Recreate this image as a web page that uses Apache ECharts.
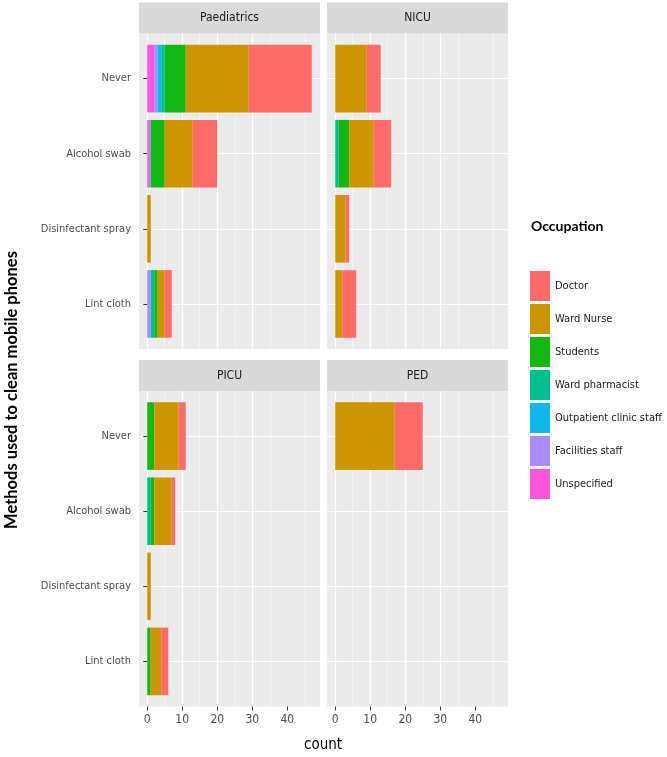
<!DOCTYPE html>
<html><head><meta charset="utf-8">
<script src="https://cdn.jsdelivr.net/npm/echarts@6/dist/echarts.min.js"></script>
<style>html,body{margin:0;padding:0;background:#fff}#c{width:667px;height:757px}</style>
</head><body><div id="c"></div>
<script>
// ---- data ----
const methods = ['Never', 'Alcohol swab', 'Disinfectant spray', 'Lint cloth'];
const panels = ['Paediatrics', 'NICU', 'PICU', 'PED'];
const occupations = ['Doctor', 'Ward Nurse', 'Students', 'Ward pharmacist', 'Outpatient clinic staff', 'Facilities staff', 'Unspecified'];
const occColors = ['#FF6B68', '#CC9600', '#14B814', '#00C08F', '#0FB8EC', '#A98AFF', '#FF55DD'];
const xTicks = [0, 10, 20, 30, 40];

// counts per method: [Never, Alcohol swab, Disinfectant spray, Lint cloth]
const paedDoctor      = [18, 7, 0, 2];
const paedNurse       = [18, 8, 1, 2];
const paedStudents    = [6, 4, 0, 1];
const paedPharmacist  = [1, 0, 0, 1];
const paedOutpatient  = [1, 0, 0, 0];
const paedFacilities  = [1, 0.5, 0, 1];
const paedUnspecified = [2, 0.5, 0, 0];

const nicuDoctor      = [4, 5, 1, 4];
const nicuNurse       = [9, 7, 3, 2];
const nicuStudents    = [0, 3, 0, 0];
const nicuPharmacist  = [0, 1, 0, 0];
const nicuOutpatient  = [0, 0, 0, 0];
const nicuFacilities  = [0, 0, 0, 0];
const nicuUnspecified = [0, 0, 0, 0];

const picuDoctor      = [2, 1, 0, 2];
const picuNurse       = [7, 5, 1, 3];
const picuStudents    = [2, 1, 0, 1];
const picuPharmacist  = [0, 1, 0, 0];
const picuOutpatient  = [0, 0, 0, 0];
const picuFacilities  = [0, 0, 0, 0];
const picuUnspecified = [0, 0, 0, 0];

const pedDoctor       = [8, 0, 0, 0];
const pedNurse        = [17, 0, 0, 0];
const pedStudents     = [0, 0, 0, 0];
const pedPharmacist   = [0, 0, 0, 0];
const pedOutpatient   = [0, 0, 0, 0];
const pedFacilities   = [0, 0, 0, 0];
const pedUnspecified  = [0, 0, 0, 0];

const panelData = [
  [paedDoctor, paedNurse, paedStudents, paedPharmacist, paedOutpatient, paedFacilities, paedUnspecified],
  [nicuDoctor, nicuNurse, nicuStudents, nicuPharmacist, nicuOutpatient, nicuFacilities, nicuUnspecified],
  [picuDoctor, picuNurse, picuStudents, picuPharmacist, picuOutpatient, picuFacilities, picuUnspecified],
  [pedDoctor, pedNurse, pedStudents, pedPharmacist, pedOutpatient, pedFacilities, pedUnspecified]
];

// ---- layout ----
const FONT = "'Liberation Sans Narrow', 'Arial Narrow', 'DejaVu Sans Condensed', sans-serif";
const dataMax = 47;
const expand = 0.05 * dataMax;
const W = 181, H = 315.5, STRIP = 31;
const boxes = [
  { left: 139, top: 33.5 }, { left: 327, top: 33.5 },
  { left: 139, top: 391 }, { left: 327, top: 391 }
];
const sx = W / (dataMax + 2 * expand);
const band = H / (methods.length - 1 + 1.2);

const grids = [], xAxes = [], yAxes = [], series = [], graphics = [];
boxes.forEach((b, p) => {
  const isLeft = p % 2 === 0, isBottom = p >= 2;
  // panel background grid
  grids.push({ left: b.left, top: b.top, width: W, height: H, show: true, backgroundColor: '#EBEBEB', borderWidth: 0 });
  xAxes.push({ gridIndex: grids.length - 1, type: 'value', show: false, min: 0, max: 1 });
  yAxes.push({ gridIndex: grids.length - 1, type: 'value', show: false, min: 0, max: 1 });
  // vertical grid lines + x axis
  const x0 = b.left + expand * sx;
  grids.push({ left: x0, top: b.top, width: 50 * sx, height: H });
  xAxes.push({
    gridIndex: grids.length - 1, type: 'value', min: 0, max: 50, interval: 10,
    axisLine: { show: false },
    axisTick: { show: isBottom, length: 4, lineStyle: { color: '#333333', width: 1 }, customValues: xTicks },
    axisLabel: { show: isBottom, margin: 7, color: '#4D4D4D', fontSize: 12, fontFamily: FONT, customValues: xTicks },
    splitLine: { show: true, showMaxLine: false, lineStyle: { color: '#FFFFFF', width: 1.2 } },
    minorTick: { show: false, splitNumber: 2 },
    minorSplitLine: { show: true, lineStyle: { color: '#FFFFFF', width: 0.5 } }
  });
  yAxes.push({ gridIndex: grids.length - 1, type: 'value', show: false, min: 0, max: 1 });
  // bars grid
  grids.push({ left: b.left, top: b.top + 0.6 * band, width: W, height: (methods.length - 1) * band });
  const gi = grids.length - 1;
  xAxes.push({ gridIndex: gi, type: 'value', show: false, min: -expand, max: dataMax + expand });
  yAxes.push({
    gridIndex: gi, type: 'category', data: methods, inverse: true, boundaryGap: false,
    axisLine: { show: false },
    axisTick: { show: isLeft, length: 4, lineStyle: { color: '#333333', width: 1 } },
    axisLabel: { show: isLeft, margin: 8, color: '#4D4D4D', fontSize: 11, fontFamily: FONT },
    splitLine: { show: true, lineStyle: { color: '#FFFFFF', width: 1.2 } }
  });
  // stacked bars: stack from Unspecified (left) to Doctor (right)
  for (let k = occupations.length - 1; k >= 0; k--) {
    series.push({
      type: 'bar', name: occupations[k], stack: 'p' + p,
      xAxisIndex: gi, yAxisIndex: gi, data: panelData[p][k],
      barWidth: 0.9 * band, clip: false, silent: true,
      itemStyle: { color: occColors[k] }
    });
  }
  // strip
  graphics.push({ type: 'rect', shape: { x: b.left, y: b.top - STRIP, width: W, height: STRIP }, style: { fill: '#D9D9D9' } });
  graphics.push({ type: 'text', x: b.left + W / 2, y: b.top - STRIP / 2,
    style: { text: panels[p], fill: '#1A1A1A', font: '12px ' + FONT, textAlign: 'center', textVerticalAlign: 'middle' } });
});

graphics.push({ type: 'text', x: 323, y: 745,
  style: { text: 'count', fill: '#000000', font: '15px ' + FONT, textAlign: 'center', textVerticalAlign: 'middle' } });
graphics.push({ type: 'text', x: 12, y: 390, rotation: Math.PI / 2,
  style: { text: 'Methods used to clean mobile phones', fill: '#000000', font: 'bold 16.5px Lato, sans-serif', textAlign: 'center', textVerticalAlign: 'middle' } });
graphics.push({ type: 'text', x: 531, y: 226,
  style: { text: 'Occupation', fill: '#000000', font: 'bold 14px Lato, sans-serif', textAlign: 'left', textVerticalAlign: 'middle' } });

const chart = echarts.init(document.getElementById('c'), null, { renderer: 'canvas' });
chart.setOption({
  animation: false,
  backgroundColor: '#FFFFFF',
  color: occColors,
  grid: grids, xAxis: xAxes, yAxis: yAxes, series: series,
  legend: {
    data: occupations, orient: 'vertical', left: 525, top: 266,
    itemWidth: 20, itemHeight: 30, itemGap: 3, icon: 'rect',
    selectedMode: false,
    textStyle: { color: '#1A1A1A', fontSize: 11, fontFamily: FONT }
  },
  graphic: graphics
});
</script>
</body></html>
